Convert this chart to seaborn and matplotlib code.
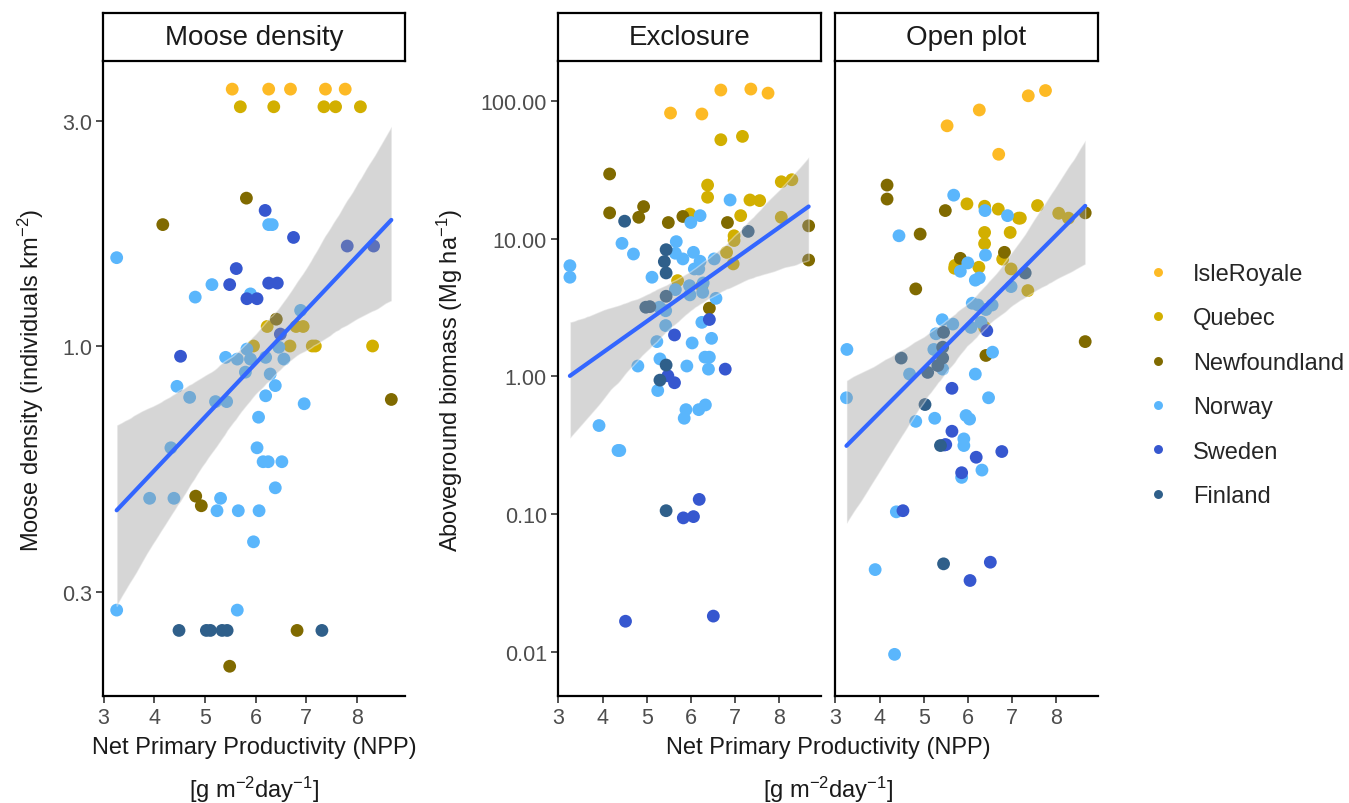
# Densidad de alces y biomasa vs productividad primaria neta (NPP)
# Tres paneles: densidad de alces, exclusion y parcela abierta

import numpy as np
import pandas as pd
import matplotlib
matplotlib.use("Agg")
import matplotlib.pyplot as plt
import seaborn as sns

sns.set_style("ticks")
plt.rcParams['font.family'] = ['Liberation Sans', 'DejaVu Sans']
plt.rcParams['mathtext.fontset'] = 'custom'
plt.rcParams['mathtext.rm'] = 'Liberation Sans'
plt.rcParams['mathtext.default'] = 'regular'

# =========================================================
# Datos
# =========================================================
regiones = ['IsleRoyale', 'Quebec', 'Newfoundland', 'Norway', 'Sweden', 'Finland']
colores = ['#FDBA25', '#D2AF00', '#806A00', '#5AB6FC', '#3657CF', '#2F5F8A']

# Panel 1: densidad de alces (individuos km-2)
moose_npp = {
    'IsleRoyale': [5.54, 6.26, 6.69, 7.38, 7.77],
    'Quebec': [5.70, 6.36, 7.35, 7.58, 8.07, 6.80, 6.94, 6.23, 5.96, 6.68, 7.12, 7.18, 8.31],
    'Newfoundland': [5.82, 4.17, 6.41, 4.82, 4.93, 8.68, 6.82, 5.49],
    'Norway': [3.26, 4.81, 5.14, 5.90, 6.26, 6.33, 6.89, 5.41, 5.64, 5.83, 5.90, 6.20,
               6.46, 6.56, 6.29, 5.80, 4.45, 4.70, 5.21, 5.43, 6.39, 6.20, 6.96, 6.06,
               6.03, 4.33, 6.15, 6.25, 6.52, 6.39, 3.91, 4.39, 5.31, 5.24, 5.66, 6.07,
               5.96, 3.26, 5.64],
    'Sweden': [6.19, 6.75, 5.62, 5.49, 6.26, 6.43, 5.83, 6.03, 4.52, 6.49, 7.81, 8.33],
    'Finland': [4.49, 5.03, 5.11, 5.34, 5.44, 7.31],
}
moose_dens = {
    'IsleRoyale': [3.51, 3.51, 3.51, 3.51, 3.51],
    'Quebec': [3.22, 3.22, 3.22, 3.22, 3.22, 1.10, 1.10, 1.10, 1.0, 1.0, 1.0, 1.0, 1.0],
    'Newfoundland': [2.06, 1.81, 1.14, 0.480, 0.458, 0.770, 0.249, 0.209],
    'Norway': [1.54, 1.27, 1.35, 1.29, 1.81, 1.81, 1.19, 0.946, 0.938, 0.985, 0.938, 0.946,
               0.994, 0.938, 0.872, 0.880, 0.821, 0.778, 0.762, 0.762, 0.824, 0.784, 0.754, 0.706,
               0.608, 0.608, 0.568, 0.568, 0.568, 0.500, 0.475, 0.475, 0.475, 0.447, 0.447, 0.447,
               0.384, 0.275, 0.275],
    'Sweden': [1.94, 1.70, 1.46, 1.35, 1.36, 1.36, 1.26, 1.26, 0.951, 1.06, 1.63, 1.63],
    'Finland': [0.249, 0.249, 0.249, 0.249, 0.249, 0.249],
}

# Panel 2: biomasa aerea en exclusion (Mg ha-1)
excl_npp = {
    'IsleRoyale': [6.68, 7.36, 7.75, 5.54, 6.25],
    'Quebec': [6.68, 7.17, 6.38, 6.38, 8.05, 8.29, 7.34, 7.56, 5.98, 7.13, 8.05, 6.98,
               6.98, 6.81, 6.96, 5.70, 6.25],
    'Newfoundland': [4.16, 4.16, 4.82, 4.93, 5.49, 5.82, 6.83, 8.67, 8.67, 6.42],
    'Norway': [3.26, 3.26, 4.44, 4.70, 5.67, 5.65, 5.82, 6.06, 6.21, 6.00, 6.21, 6.89,
               6.53, 6.08, 6.18, 5.12, 5.65, 5.97, 5.98, 6.27, 6.28, 6.57, 5.29, 5.43,
               5.43, 6.25, 5.23, 6.03, 6.47, 5.30, 6.32, 6.42, 4.80, 5.91, 6.40, 5.25,
               5.89, 5.85, 6.18, 6.33, 3.92, 4.35, 4.39],
    'Sweden': [6.42, 5.63, 6.78, 5.48, 5.63, 6.19, 5.83, 6.06, 4.52, 6.51],
    'Finland': [4.50, 5.44, 5.40, 5.44, 7.30, 5.44, 5.07, 4.98, 5.44, 5.30, 5.44],
}
excl_biom = {
    'IsleRoyale': [120, 122, 114, 81.7, 80.4],
    'Quebec': [52.3, 55.3, 24.5, 20.0, 25.9, 26.8, 19.1, 18.9, 15.1, 14.7, 14.3, 10.5,
               9.7, 7.96, 6.56, 4.96, 4.52],
    'Newfoundland': [29.5, 15.4, 14.3, 17.1, 13.1, 14.5, 13.1, 12.4, 7.0, 3.13],
    'Norway': [6.37, 5.25, 9.25, 7.74, 9.52, 7.84, 7.13, 7.96, 6.86, 13.1, 14.7, 19.1,
               7.13, 6.03, 6.03, 5.25, 4.27, 4.56, 3.91, 4.08, 4.77, 3.69, 3.18, 3.00,
               2.34, 2.47, 1.79, 1.75, 1.89, 1.34, 1.38, 1.38, 1.19, 1.19, 1.13, 0.79,
               0.574, 0.497, 0.574, 0.621, 0.44, 0.29, 0.29],
    'Sweden': [2.59, 2.00, 1.13, 1.01, 0.90, 0.128, 0.094, 0.096, 0.0167, 0.0182],
    'Finland': [13.4, 8.32, 6.82, 5.64, 11.3, 3.82, 3.21, 3.18, 1.21, 0.94, 0.106],
}

# Panel 3: biomasa aerea en parcela abierta (Mg ha-1)
open_npp = {
    'IsleRoyale': [5.53, 6.26, 7.37, 7.76, 6.70],
    'Quebec': [5.98, 6.38, 6.69, 7.15, 7.19, 7.58, 8.06, 8.28, 6.38, 6.96, 6.38, 6.79,
               6.98, 6.25, 5.70, 5.71, 7.36, 6.38],
    'Newfoundland': [4.17, 4.17, 5.49, 4.92, 5.83, 6.83, 8.66, 4.82, 8.66, 6.41],
    'Norway': [5.68, 6.39, 6.90, 4.44, 6.40, 6.00, 5.83, 6.17, 6.26, 6.98, 6.10, 6.23,
               6.55, 6.41, 5.42, 5.66, 5.28, 6.07, 6.30, 3.26, 5.23, 6.56, 5.43, 4.68,
               6.17, 3.25, 6.47, 4.82, 5.25, 5.96, 6.04, 5.91, 5.91, 6.32, 5.86, 4.38,
               3.90, 4.34],
    'Sweden': [6.43, 5.64, 5.64, 5.47, 5.50, 6.77, 6.19, 5.86, 4.53, 6.51, 6.05],
    'Finland': [5.45, 7.30, 5.43, 5.43, 4.49, 5.32, 5.09, 5.03, 5.38, 5.45],
}
open_biom = {
    'IsleRoyale': [66, 86, 109, 119, 41],
    'Quebec': [17.9, 17.2, 16.4, 14.1, 14.1, 17.4, 15.3, 14.1, 11.1, 11.1, 9.2, 7.1,
               6.03, 6.20, 6.1, 6.4, 4.2, 2.27],
    'Newfoundland': [24.5, 19.4, 16.0, 10.8, 7.2, 7.96, 15.4, 4.32, 1.79, 1.42],
    'Norway': [20.7, 16.0, 14.7, 10.5, 7.6, 6.67, 5.8, 5.0, 5.19, 4.49, 3.40, 3.30,
               3.30, 3.06, 2.58, 2.40, 2.04, 2.27, 2.47, 1.57, 1.57, 1.50, 1.13, 1.04,
               1.04, 0.70, 0.70, 0.472, 0.497, 0.52, 0.49, 0.352, 0.315, 0.209, 0.185, 0.104,
               0.0396, 0.0096],
    'Sweden': [2.15, 0.82, 0.40, 0.318, 0.32, 0.285, 0.259, 0.20, 0.106, 0.0448, 0.033],
    'Finland': [2.09, 5.64, 1.63, 1.36, 1.36, 1.20, 1.07, 0.625, 0.315, 0.0436],
}

moose_ticks = [0.3, 1.0, 3.0]
moose_labels = ['0.3', '1.0', '3.0']
biom_ticks = [0.01, 0.1, 1, 10, 100]
biom_labels = ['0.01', '0.10', '1.00', '10.00', '100.00']
npp_ticks = [3, 4, 5, 6, 7, 8]

paleta = dict(zip(regiones, colores))


def armar_df(xs, ys):
    filas = []
    for reg in regiones:
        for x, y in zip(xs[reg], ys[reg]):
            filas.append((reg, x, y))
    df = pd.DataFrame(filas, columns=['Region', 'NPP', 'valor'])
    # Se grafica en log10 para que la regresion sea lineal en escala log
    df['log_valor'] = np.log10(df['valor'])
    return df


df_moose = armar_df(moose_npp, moose_dens)
df_excl = armar_df(excl_npp, excl_biom)
df_open = armar_df(open_npp, open_biom)

# =========================================================
# Figura
# =========================================================
W, H = 1349, 804
fig = plt.figure(figsize=(W / 100, H / 100), dpi=100)

pos_paneles = [(103, 405), (558, 821), (835, 1098)]
y_top, y_bot = 62, 697


def panel(x0, x1, df, ticks, labels, ylim, titulo, con_leyenda=False, ylabels=True):
    ax = fig.add_axes([x0 / W, 1 - y_bot / H, (x1 - x0) / W, (y_bot - y_top) / H])
    sns.scatterplot(data=df, x='NPP', y='log_valor', hue='Region', hue_order=regiones,
                    palette=paleta, s=85, edgecolor='none', linewidth=0,
                    legend=con_leyenda, ax=ax)
    sns.regplot(data=df, x='NPP', y='log_valor', scatter=False, ax=ax,
                color='#3366FF', line_kws={'lw': 3}, seed=7)
    # banda de confianza gris como en ggplot
    banda = ax.collections[-1]
    banda.set_facecolor('#999999')
    banda.set_alpha(0.4)

    ax.set_xlim(2.99, 8.95)
    ax.set_ylim(ylim)
    ax.set_xticks(npp_ticks)
    ax.set_yticks(np.log10(ticks))
    ax.set_yticklabels(labels)
    ax.set_xlabel('')
    ax.set_ylabel('')
    sns.despine(ax=ax)
    for s in ['left', 'bottom']:
        ax.spines[s].set_color('black')
        ax.spines[s].set_linewidth(1.6)
    ax.tick_params(direction='out', length=5, width=1.2, color='#333333',
                   labelsize=15.5, labelcolor='#4D4D4D', pad=3)
    if not ylabels:
        ax.tick_params(axis='y', length=0, labelleft=False)

    # caja del titulo del panel
    sax = fig.add_axes([x0 / W, 1 - y_top / H, (x1 - x0) / W, 48 / H])
    sax.set_xticks([])
    sax.set_yticks([])
    for s in sax.spines.values():
        s.set_color('black')
        s.set_linewidth(1.6)
    sax.text(0.5, 0.5, titulo, ha='center', va='center', fontsize=20,
             color='#1A1A1A', transform=sax.transAxes)
    return ax


ax1 = panel(*pos_paneles[0], df_moose, moose_ticks, moose_labels, (-0.743, 0.605),
            'Moose density', con_leyenda=True)
ax2 = panel(*pos_paneles[1], df_excl, biom_ticks, biom_labels, (-2.32, 2.29), 'Exclosure')
ax3 = panel(*pos_paneles[2], df_open, biom_ticks, biom_labels, (-2.32, 2.29), 'Open plot',
            ylabels=False)

# Leyenda a la derecha
handles, labels = ax1.get_legend_handles_labels()
ax1.get_legend().remove()
fig.legend(handles, labels, loc='center left', bbox_to_anchor=(1146 / W, 1 - 386 / H),
           frameon=False, fontsize=17, markerscale=0.7, labelspacing=0.95,
           handlelength=1.0, handletextpad=1.0, borderaxespad=0, borderpad=0)

# Titulos de ejes
for xc in [254, 828]:
    fig.text(xc / W, 1 - 748 / H, 'Net Primary Productivity (NPP)', ha='center',
             va='center', fontsize=17, color='#1A1A1A')
    fig.text(xc / W, 1 - 790 / H, '[g m$^{-2}$day$^{-1}$]', ha='center',
             va='center', fontsize=17, color='#1A1A1A')

fig.text(31 / W, 1 - 380 / H, 'Moose density (individuals km$^{-2}$)', rotation=90,
         ha='center', va='center', fontsize=17, color='#1A1A1A')
fig.text(450 / W, 1 - 380 / H, 'Aboveground biomass (Mg ha$^{-1}$)', rotation=90,
         ha='center', va='center', fontsize=17, color='#1A1A1A')

fig.savefig('out.png', dpi=100)
